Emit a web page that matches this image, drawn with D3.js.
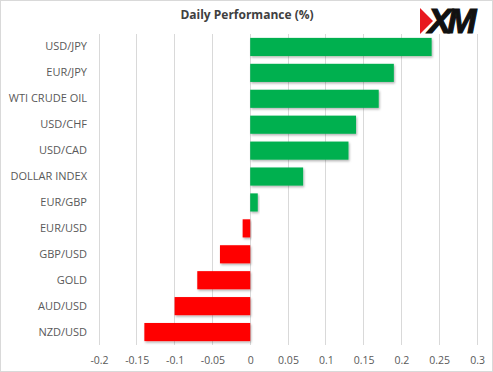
<!DOCTYPE html>
<html><head><meta charset="utf-8">
<script src="https://cdn.jsdelivr.net/npm/d3@7"></script>
<style>body{margin:0;background:#fff}svg{display:block}</style>
</head><body>
<svg id="c" width="493" height="372"></svg>
<script>
const categories = ["USD/JPY","EUR/JPY","WTI CRUDE OIL","USD/CHF","USD/CAD","DOLLAR INDEX","EUR/GBP","EUR/USD","GBP/USD","GOLD","AUD/USD","NZD/USD"];
const values = [0.24,0.19,0.17,0.14,0.13,0.07,0.01,-0.01,-0.04,-0.07,-0.10,-0.14];
const tickValues = [-0.2,-0.15,-0.1,-0.05,0,0.05,0.1,0.15,0.2,0.25,0.3];
const tickLabels = ["-0.2","-0.15","-0.1","-0.05","0","0.05","0.1","0.15","0.2","0.25","0.3"];
const title = "Daily Performance (%)";

const svg = d3.select("#c");
const font = "'Open Sans', 'Liberation Sans', sans-serif";
svg.append("rect").attr("x",0.5).attr("y",0.5).attr("width",492).attr("height",371)
  .attr("fill","#fff").attr("stroke","#d9d9d9");

const x = d3.scaleLinear().domain([-0.2,0.3]).range([99,477]);
const y = d3.scaleBand().domain(categories).range([34,345]).paddingInner(0.3).paddingOuter(0.15);

const defs = svg.append("defs");
const f = defs.append("filter").attr("id","sh").attr("x","-10%").attr("y","-20%").attr("width","130%").attr("height","160%");
f.append("feDropShadow").attr("dx",1).attr("dy",1.5).attr("stdDeviation",1).attr("flood-color","#000").attr("flood-opacity",0.3);

// gridlines
svg.append("g").selectAll("line").data(tickValues).join("line")
  .attr("x1",d=>x(d)).attr("x2",d=>x(d)).attr("y1",34).attr("y2",345)
  .attr("stroke","#d9d9d9").attr("stroke-width",1).attr("shape-rendering","crispEdges");

// bars
svg.append("g").selectAll("rect").data(values).join("rect")
  .attr("x",d=>x(Math.min(0,d))).attr("width",d=>Math.abs(x(d)-x(0)))
  .attr("y",(d,i)=>y(categories[i])).attr("height",y.bandwidth())
  .attr("fill",d=>d>=0?"#00b050":"#ff0000").attr("filter","url(#sh)");

// x axis
const xAxis = d3.axisBottom(x).tickValues(tickValues).tickFormat((d,i)=>tickLabels[i]).tickSize(0).tickPadding(8);
const gx = svg.append("g").attr("transform","translate(0,349)").call(xAxis);
gx.select(".domain").remove();
gx.selectAll("text").attr("font-family",font).attr("font-size",10.5).attr("fill","#595959");

// y axis
const yAxis = d3.axisLeft(y).tickSize(0).tickPadding(0);
const gy = svg.append("g").attr("transform","translate(87,0)").call(yAxis);
gy.select(".domain").remove();
gy.selectAll("text").attr("font-family",font).attr("font-size",11).attr("fill","#595959");

// title
svg.append("text").attr("x",247).attr("y",19).attr("text-anchor","middle")
  .attr("font-family",font).attr("font-size",12).attr("font-weight","bold").attr("fill","#404040").text(title);

// logo
const logo = svg.append("g");
logo.append("polygon").attr("points","420,8 433,21 420,34").attr("fill","#e8191f");
logo.append("text").attr("x",428).attr("y",33).attr("font-family","'Liberation Sans', Arial, sans-serif")
  .attr("font-size",35).attr("font-weight","bold").attr("font-style","italic").attr("letter-spacing",-4)
  .attr("fill","#111").attr("stroke","#111").attr("stroke-width",1.2).text("XM");
</script>
</body></html>
